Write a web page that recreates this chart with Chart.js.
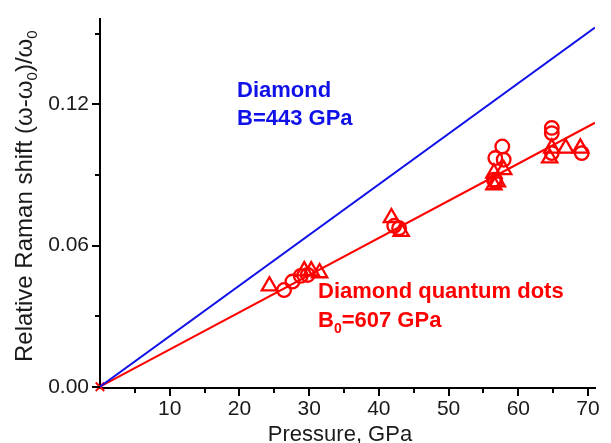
<!DOCTYPE html>
<html><head><meta charset="utf-8">
<script src="https://cdn.jsdelivr.net/npm/chart.js@4.4.1/dist/chart.umd.min.js"></script>
<style>html,body{margin:0;padding:0;background:#fff}#wrap{width:611px;height:443px}</style>
</head><body><div id="wrap"><canvas id="c" width="611" height="443"></canvas></div>
<script>
// ---- data ----
const xTicks = [10, 20, 30, 40, 50, 60, 70];
const xMinorTicks = [5, 15, 25, 35, 45, 55, 65];
const yTicks = [0, 0.06, 0.12];
const yMinorTicks = [0.03, 0.09, 0.15];

const circleX = [26.4, 27.6, 28.8, 29.8, 42.2, 42.9, 56.7, 57.9, 57.7, 56.7, 56.5, 64.8, 64.8, 64.8, 69.1];
const circleY = [0.0411, 0.0447, 0.0471, 0.0475, 0.0684, 0.0674, 0.0972, 0.0965, 0.1021, 0.0872, 0.088, 0.110, 0.1078, 0.0993, 0.0993];

const triX = [24.3, 29.3, 30.3, 31.5, 41.8, 43.2, 56.5, 57.9, 56.5, 57.0, 64.8, 64.5, 66.8, 68.9];
const triY = [0.0428, 0.0492, 0.0492, 0.0484, 0.0718, 0.066, 0.0908, 0.0922, 0.0858, 0.087, 0.1014, 0.0972, 0.1014, 0.1014];

const diamondLineX = [0, 71];
const diamondLineY = [0, 0.1527];
const dotsLineX = [0, 71];
const dotsLineY = [0, 0.1122];
const originX = [0];
const originY = [0];

const pts = (xs, ys) => xs.map((x, i) => ({x: x, y: ys[i]}));

const RED = '#ff0000';
const BLUE = '#1010e8';
const TXT = '#1a1a1a';
const FAM = "'Liberation Sans', Arial, sans-serif";

function drawRuns(ctx, runs, x, y, size, subSize, subOff, weight) {
  let cx = x;
  for (const r of runs) {
    ctx.font = weight + ' ' + (r.sub ? subSize : size) + 'px ' + FAM;
    ctx.fillText(r.t, cx, y + (r.sub ? subOff : 0));
    cx += ctx.measureText(r.t).width;
  }
}

const decor = {
  id: 'decor',
  afterDraw(chart) {
    const ctx = chart.ctx;
    const xs = chart.scales.x, ys = chart.scales.y;
    const ca = chart.chartArea;
    ctx.save();
    ctx.strokeStyle = '#000';
    ctx.lineWidth = 2;
    ctx.beginPath();
    const bottom = ca.bottom;
    xTicks.forEach(v => { const p = Math.round(xs.getPixelForValue(v)); ctx.moveTo(p, bottom); ctx.lineTo(p, bottom + 8); });
    xMinorTicks.forEach(v => { const p = Math.round(xs.getPixelForValue(v)); ctx.moveTo(p, bottom); ctx.lineTo(p, bottom + 5); });
    const left = ca.left;
    yTicks.forEach(v => { const p = Math.round(ys.getPixelForValue(v)); ctx.moveTo(left, p); ctx.lineTo(left - 8, p); });
    yMinorTicks.forEach(v => { const p = Math.round(ys.getPixelForValue(v)); ctx.moveTo(left, p); ctx.lineTo(left - 5, p); });
    ctx.stroke();

    // axis titles
    ctx.fillStyle = TXT;
    ctx.textBaseline = 'alphabetic';
    ctx.textAlign = 'left';
    ctx.font = '22px ' + FAM;
    const xt = 'Pressure, GPa';
    const w = ctx.measureText(xt).width;
    ctx.fillText(xt, 340 - w / 2, 441);

    ctx.save();
    ctx.translate(32, 362);
    ctx.rotate(-Math.PI / 2);
    drawRuns(ctx, [
      {t: 'Relative Raman shift (\u03c9-\u03c9'}, {t: '0', sub: true}, {t: ')/\u03c9'}, {t: '0', sub: true}
    ], 0, 0, 24, 15, 5, 'normal');
    ctx.restore();

    // annotations
    ctx.fillStyle = BLUE;
    ctx.font = 'bold 22px ' + FAM;
    ctx.fillText('Diamond', 237, 97);
    ctx.fillText('B=443 GPa', 237, 125);

    ctx.fillStyle = RED;
    ctx.font = 'bold 22px ' + FAM;
    ctx.fillText('Diamond quantum dots', 318, 298);
    drawRuns(ctx, [{t: 'B'}, {t: '0', sub: true}, {t: '=607 GPa'}], 318, 327, 22, 14, 6, 'bold');
    ctx.restore();
  }
};

new Chart(document.getElementById('c'), {
  type: 'scatter',
  data: {
    datasets: [
      {data: pts(diamondLineX, diamondLineY), showLine: true, borderColor: BLUE, borderWidth: 2, pointRadius: 0, fill: false},
      {data: pts(dotsLineX, dotsLineY), showLine: true, borderColor: RED, borderWidth: 2, pointRadius: 0, fill: false},
      {data: pts(circleX, circleY), showLine: false, pointStyle: 'circle', pointRadius: 6.8, borderColor: RED, backgroundColor: 'rgba(0,0,0,0)', pointBorderWidth: 2.3, clip: false},
      {data: pts(triX, triY), showLine: false, pointStyle: 'triangle', pointRadius: 8.8, borderColor: RED, backgroundColor: 'rgba(0,0,0,0)', pointBorderWidth: 2.3, clip: false},
      {data: pts(originX, originY), showLine: false, pointStyle: 'crossRot', pointRadius: 6, borderColor: RED, pointBorderWidth: 2, clip: false}
    ]
  },
  options: {
    responsive: false,
    animation: false,
    events: [],
    layout: {padding: {top: 19, right: 16, left: 0, bottom: 0}},
    plugins: {legend: {display: false}, tooltip: {enabled: false}, title: {display: false}},
    scales: {
      x: {
        type: 'linear', min: 0, max: 71,
        afterFit(s) { s.height = 55; },
        afterBuildTicks(s) { s.ticks = xTicks.map(v => ({value: v})); },
        grid: {display: false, drawTicks: true, tickLength: 8},
        border: {display: true, color: '#000', width: 2},
        ticks: {font: {family: FAM, size: 21}, color: TXT, padding: 1, maxRotation: 0, autoSkip: false}
      },
      y: {
        type: 'linear', min: -0.00055, max: 0.1563,
        afterFit(s) { s.width = 100; },
        afterBuildTicks(s) { s.ticks = yTicks.map(v => ({value: v})); },
        grid: {display: false, drawTicks: true, tickLength: 8},
        border: {display: true, color: '#000', width: 2},
        ticks: {font: {family: FAM, size: 21}, color: TXT, padding: 3, autoSkip: false, callback: v => Number(v).toFixed(2)}
      }
    }
  },
  plugins: [decor]
});
</script>
</body></html>
